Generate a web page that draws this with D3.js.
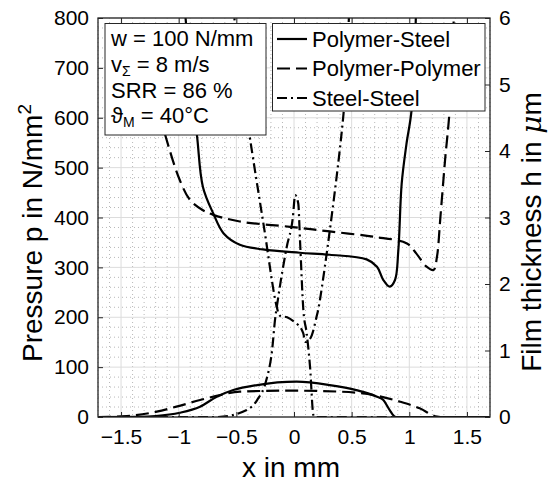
<!DOCTYPE html>
<html>
<head>
<meta charset="utf-8">
<script src="https://cdn.jsdelivr.net/npm/d3@7"></script>
<style>
  html, body { margin: 0; padding: 0; background: #fff; }
  text { font-family: "Liberation Sans", Arial, Helvetica, sans-serif; fill: #000; }
</style>
</head>
<body>
<div id="chart"></div>
<script>
// x positions in mm, pressure in N/mm^2, film thickness in µm
const xTicks = [-1.5, -1, -0.5, 0, 0.5, 1, 1.5];
const pTicks = [0, 100, 200, 300, 400, 500, 600, 700, 800];
const hTicks = [0, 1, 2, 3, 4, 5, 6];

// film thickness h(x)
const hPolymerSteel = [
  [-0.95, 6.2], [-0.89, 5.0], [-0.84, 4.21], [-0.79, 3.46], [-0.70, 3.06], [-0.61, 2.76],
  [-0.47, 2.59], [-0.27, 2.52], [0.05, 2.47], [0.31, 2.44], [0.63, 2.37], [0.72, 2.26],
  [0.775, 2.06], [0.83, 1.96], [0.876, 2.06], [0.905, 2.51], [0.934, 3.51], [0.975, 4.1],
  [1.02, 4.62], [1.06, 6.2]
];
const hPolymerPolymer = [
  [-1.38, 6.2], [-1.3, 5.6], [-1.2, 4.8], [-1.105, 4.17], [-0.99, 3.56], [-0.90, 3.26],
  [-0.79, 3.11], [-0.70, 3.04], [-0.47, 2.94], [-0.035, 2.86], [0.31, 2.79], [0.69, 2.71],
  [0.98, 2.61], [1.06, 2.46], [1.15, 2.26], [1.21, 2.21], [1.24, 2.41], [1.27, 3.01],
  [1.31, 3.86], [1.35, 4.62], [1.39, 6.2]
];
const hSteelSteel = [
  [-0.53, 6.2], [-0.45, 5.0], [-0.38, 4.17], [-0.26, 2.85], [-0.15, 1.66], [-0.12, 1.52],
  [-0.06, 1.50], [0.05, 1.36], [0.08, 1.26], [0.10, 1.13], [0.14, 1.18], [0.196, 1.51],
  [0.225, 1.76], [0.43, 4.57], [0.48, 6.2]
];

// pressure p(x)
const pPolymerSteel = [
  [-1.7, 0], [-1.35, 0.5], [-1.2, 2], [-0.99, 8.6], [-0.815, 20.7], [-0.67, 40.7],
  [-0.526, 54], [-0.32, 64], [0.023, 70.8], [0.31, 64], [0.54, 54], [0.72, 40.7],
  [0.775, 34], [0.83, 14], [0.876, 0.6], [0.9, 0], [1.7, 0]
];
const pPolymerPolymer = [
  [-1.7, 0], [-1.45, 2], [-1.19, 10.7], [-1.02, 20.7], [-0.815, 34], [-0.64, 44],
  [-0.47, 50.8], [-0.035, 52.8], [0.40, 50.8], [0.69, 44], [0.92, 30.7], [1.09, 17.4],
  [1.24, 0.6], [1.27, 0], [1.7, 0]
];
const pSteelSteel = [
  [-1.7, 0], [-0.66, 0], [-0.41, 14], [-0.32, 34], [-0.24, 74], [-0.19, 134],
  [-0.165, 194], [-0.14, 235], [-0.063, 341], [-0.01, 400], [0.01, 445], [0.037, 428],
  [0.052, 355], [0.081, 215], [0.11, 168], [0.139, 101], [0.168, 4], [0.18, 0], [1.7, 0]
];

const seriesNames = ["Polymer-Steel", "Polymer-Polymer", "Steel-Steel"];
const infoLines = ["w = 100 N/mm", "v|Σ| = 8 m/s", "SRR = 86 %", "ϑ|M| = 40°C"];

const W = 549, H = 482;
const L = 98, R = 490, T = 18, B = 417;
const dashes = ["none", "13,6", "10,4,2,4"];
const ink = "#000";
const axisInk = "#262626";

const svg = d3.select("#chart").append("svg")
  .attr("width", W).attr("height", H)
  .attr("viewBox", `0 0 ${W} ${H}`);
svg.append("rect").attr("width", W).attr("height", H).attr("fill", "#fff");

const x = d3.scaleLinear().domain([-1.7, 1.7]).range([L, R]);
const yP = d3.scaleLinear().domain([0, 800]).range([B, T]);
const yH = d3.scaleLinear().domain([0, 6]).range([B, T]);

// grid: minor dotted, major solid
const grid = svg.append("g");
const xMinor = d3.range(-17, 18).map(i => i / 10).filter(v => Math.abs(v * 2 - Math.round(v * 2)) > 1e-6);
const pMinor = d3.range(0, 801, 20).filter(v => v % 100 !== 0);
grid.selectAll(".xm").data(xMinor).join("line")
  .attr("x1", d => x(d)).attr("x2", d => x(d)).attr("y1", T).attr("y2", B)
  .attr("stroke", "#b8b8b8").attr("stroke-width", 1).attr("stroke-dasharray", "1,3");
grid.selectAll(".pm").data(pMinor).join("line")
  .attr("y1", d => yP(d)).attr("y2", d => yP(d)).attr("x1", L).attr("x2", R)
  .attr("stroke", "#b8b8b8").attr("stroke-width", 1).attr("stroke-dasharray", "1,3");
grid.selectAll(".xM").data(xTicks).join("line")
  .attr("x1", d => x(d)).attr("x2", d => x(d)).attr("y1", T).attr("y2", B)
  .attr("stroke", "#dcdcdc").attr("stroke-width", 1);
grid.selectAll(".pM").data(pTicks).join("line")
  .attr("y1", d => yP(d)).attr("y2", d => yP(d)).attr("x1", L).attr("x2", R)
  .attr("stroke", "#dcdcdc").attr("stroke-width", 1);

// curves
svg.append("clipPath").attr("id", "plot").append("rect")
  .attr("x", L).attr("y", T).attr("width", R - L).attr("height", B - T);
const curves = svg.append("g").attr("clip-path", "url(#plot)");
const lineP = d3.line().x(d => x(d[0])).y(d => yP(d[1])).curve(d3.curveMonotoneX);
const lineH = d3.line().x(d => x(d[0])).y(d => yH(d[1])).curve(d3.curveCatmullRom);

[[pPolymerSteel, 0], [pPolymerPolymer, 1], [pSteelSteel, 2]].forEach(([data, i]) => {
  curves.append("path").attr("d", lineP(data))
    .attr("fill", "none").attr("stroke", ink).attr("stroke-width", 2.2)
    .attr("stroke-dasharray", dashes[i]);
});
[[hPolymerSteel, 0], [hPolymerPolymer, 1], [hSteelSteel, 2]].forEach(([data, i]) => {
  curves.append("path").attr("d", lineH(data))
    .attr("fill", "none").attr("stroke", ink).attr("stroke-width", 2.2)
    .attr("stroke-dasharray", dashes[i]);
});

// axes
const fs = 21;
const axB = svg.append("g").attr("transform", `translate(0,${B})`)
  .call(d3.axisBottom(x).tickValues(xTicks).tickSize(-5).tickPadding(12).tickFormat(d3.format("")));
const axT = svg.append("g").attr("transform", `translate(0,${T})`)
  .call(d3.axisTop(x).tickValues(xTicks).tickSize(-5).tickFormat(""));
const axL = svg.append("g").attr("transform", `translate(${L},0)`)
  .call(d3.axisLeft(yP).tickValues(pTicks).tickSize(-5).tickPadding(9).tickFormat(d3.format("d")));
const axR = svg.append("g").attr("transform", `translate(${R},0)`)
  .call(d3.axisRight(yH).tickValues(hTicks).tickSize(-5).tickPadding(9).tickFormat(d3.format("d")));
[axB, axT, axL, axR].forEach(g => {
  g.select(".domain").remove();
  g.selectAll(".tick line").attr("stroke", axisInk).attr("stroke-width", 1);
  g.selectAll(".tick text").attr("font-size", fs).attr("fill", "#000")
    .style("font-family", '"Liberation Sans", Arial, sans-serif');
});
svg.append("rect").attr("x", L).attr("y", T).attr("width", R - L).attr("height", B - T)
  .attr("fill", "none").attr("stroke", axisInk).attr("stroke-width", 1.3);

// axis labels
svg.append("text").attr("x", (L + R) / 2 - 3).attr("y", 477).attr("text-anchor", "middle")
  .attr("font-size", 28).text("x in mm");
const yl = svg.append("text").attr("transform", "translate(42,233) rotate(-90)")
  .attr("text-anchor", "middle").attr("font-size", 28);
yl.append("tspan").text("Pressure p in N/mm");
yl.append("tspan").attr("dy", -11).attr("font-size", 19).text("2");
const yr = svg.append("text").attr("transform", "translate(541,232) rotate(-90)")
  .attr("text-anchor", "middle").attr("font-size", 28);
yr.append("tspan").text("Film thickness h in ");
yr.append("tspan").attr("font-family", '"DejaVu Serif", "Liberation Serif", serif').attr("font-style", "italic").text("μ");
yr.append("tspan").text("m");

// parameter box
const box = svg.append("g");
box.append("rect").attr("x", 105).attr("y", 23.5).attr("width", 161).attr("height", 111.5)
  .attr("fill", "#fff").attr("stroke", axisInk).attr("stroke-width", 1);
infoLines.forEach((s, i) => {
  const t = box.append("text").attr("x", 111).attr("y", 46 + i * 25.8).attr("font-size", 22);
  const parts = s.split("|");
  t.append("tspan").text(parts[0]);
  if (parts.length > 1) {
    t.append("tspan").attr("dy", 4).attr("font-size", 14).text(parts[1]);
    t.append("tspan").attr("dy", -4).text(parts[2]);
  }
});

// legend
const lg = svg.append("g");
lg.append("rect").attr("x", 272.5).attr("y", 23.5).attr("width", 212.5).attr("height", 87.5)
  .attr("fill", "#fff").attr("stroke", axisInk).attr("stroke-width", 1);
seriesNames.forEach((name, i) => {
  const cy = 39 + i * 29.5;
  lg.append("line").attr("x1", 277).attr("x2", 307).attr("y1", cy).attr("y2", cy)
    .attr("stroke", ink).attr("stroke-width", 2.2).attr("stroke-dasharray", dashes[i]);
  lg.append("text").attr("x", 312).attr("y", cy + 7.5).attr("font-size", 22).text(name);
});
</script>
</body>
</html>
